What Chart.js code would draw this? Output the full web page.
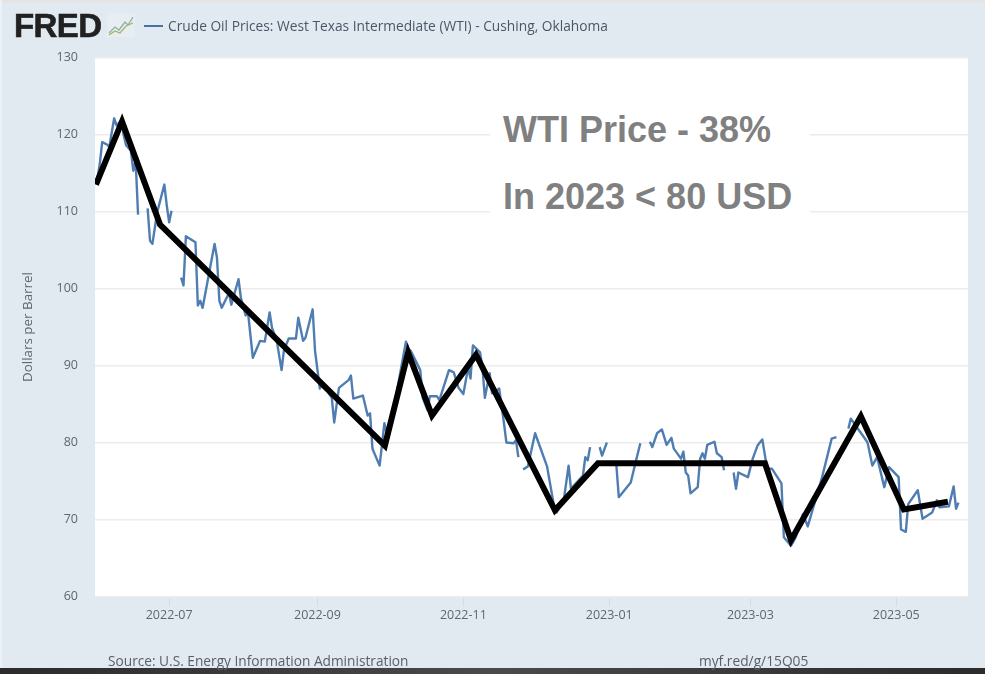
<!DOCTYPE html>
<html>
<head>
<meta charset="utf-8">
<script src="https://cdn.jsdelivr.net/npm/chart.js@4"></script>
<style>
html,body{margin:0;padding:0;background:#e1e9f1;}
#page{position:relative;width:985px;height:674px;overflow:hidden;background:#e1e9f1;font-family:"Open Sans",sans-serif;}
canvas{position:absolute;left:0;top:0;}
.abs{position:absolute;white-space:nowrap;}
#topstrip{left:0;top:0;width:985px;height:3px;background:#e4e4e4;}
#leftstrip{left:0;top:0;width:2px;height:668px;background:#edf1f5;}
#bottomstrip{left:0;top:668px;width:985px;height:6px;background:linear-gradient(90deg,#2b2b2b,#4a4a4a 50%,#2b2b2b);}
#logo{left:14px;top:8px;font:bold 33px/36px "Liberation Sans",Arial,sans-serif;color:#212121;letter-spacing:-0.6px;-webkit-text-stroke:0.6px #212121;}
#legendline{left:144px;top:25px;width:19px;height:2px;background:#4572a7;}
#legendtext{left:168px;top:16px;font-size:13.75px;line-height:19px;color:#4a5765;}
#note{left:490px;top:104px;width:320px;height:122px;background:#fff;}
.notetext{font:bold 36px/40px "Liberation Sans",Arial,sans-serif;color:#808080;left:503px;}
#source{left:108px;top:652px;font-size:13.7px;line-height:18px;color:#5a5f66;}
#link{left:699px;top:652px;font-size:13.75px;line-height:18px;color:#5a5f66;}
</style>
</head>
<body>
<div id="page">
<canvas id="c" width="985" height="674"></canvas>
<div class="abs" id="note"></div>
<div class="abs notetext" style="top:110px">WTI Price - 38%</div>
<div class="abs notetext" style="top:177px">In 2023 &lt; 80 USD</div>
<div class="abs" id="topstrip"></div>
<div class="abs" id="leftstrip"></div>
<div class="abs" id="bottomstrip"></div>
<div class="abs" id="logo">FRED</div>
<svg class="abs" style="left:107px;top:13px" width="28" height="24" viewBox="0 0 28 24">
<rect x="0" y="0" width="28" height="24" fill="#e8edf1"/>
<polyline points="2,20 8,14 12,17 18,9 21,12 26,4" fill="none" stroke="#8fb0a0" stroke-width="1.3"/>
<polyline points="2,22 8,18 13,20 19,13 26,10" fill="none" stroke="#9db86a" stroke-width="1.3"/>
</svg>
<div class="abs" id="legendline"></div>
<div class="abs" id="legendtext">Crude Oil Prices: West Texas Intermediate (WTI) - Cushing, Oklahoma</div>
<div class="abs" id="source">Source: U.S. Energy Information Administration</div>
<div class="abs" id="link">myf.red/g/15Q05</div>
</div>
<script>
// Days counted from 2022-05-31; null values are gaps in the daily series.
const wtiDays = [1,2,3,5,6,8,9,11,12,13,15,16,17,18,20,22,23,24,26,29,30,31,32,34,36,37,38,42,43,44,45,50,51,52,53,56,57,60,61,63,64,66,69,71,73,74,76,78,79,81,84,85,87,88,91,92,94,95,99,100,102,106,107,108,112,114,115,116,119,121,122,124,130,131,132,136,137,139,140,143,144,148,150,152,154,156,157,158,161,162,163,165,166,169,171,172,175,176,177,178,179,181,184,189,192,193,196,198,199,204,205,206,207,208,211,212,214,215,218,219,224,226,228,230,232,233,235,237,239,241,242,245,246,247,248,249,252,253,254,255,256,259,260,262,263,264,267,268,269,273,275,277,279,281,283,287,288,291,293,296,298,304,308,310,311,315,316,318,321,323,325,327,330,332,336,337,339,340,344,346,350,352,353,357,359,360,361];
const wtiValues = [114.3,116.2,119.0,118.7,118.4,122.1,121.2,121.8,119.9,118.6,117.9,115.3,116.6,109.6,null,110.4,106.2,105.8,109.9,113.5,110.8,108.6,110.1,null,101.4,100.4,106.8,106.0,97.8,98.4,97.5,105.8,104.0,98.4,97.5,99.4,97.9,101.2,98.8,96.5,96.8,91.0,93.2,93.1,96.9,94.9,93.2,89.4,92.0,93.5,93.5,96.2,93.2,93.6,97.3,91.9,87.0,87.7,85.8,82.6,87.1,88.1,88.7,85.7,86.1,83.5,83.8,79.2,77.0,82.5,81.2,82.9,93.1,92.2,91.9,89.4,85.8,84.2,86.0,86.0,85.5,89.4,89.1,87.1,86.3,89.7,88.3,92.6,91.7,89.7,85.8,89.0,86.4,87.0,82.5,80.0,79.9,80.3,78.1,null,76.5,76.9,81.2,76.9,71.6,70.9,72.5,77.0,74.0,75.7,78.1,77.7,79.4,null,79.4,78.3,80.0,null,77.0,72.9,74.8,77.4,79.9,null,80.1,79.4,81.2,81.7,79.7,80.6,79.2,77.9,78.8,76.1,75.7,73.4,74.2,77.9,78.6,77.9,79.7,80.1,78.6,78.1,76.4,null,76.1,74.0,76.1,75.5,77.9,79.6,80.4,76.6,76.6,74.7,67.7,66.6,67.7,70.7,69.1,75.5,80.5,80.7,null,81.8,83.1,82.2,80.9,80.0,77.0,78.1,74.2,76.8,75.5,68.7,68.4,72.0,73.8,70.1,70.9,72.5,71.6,71.7,74.3,71.4,72.2];
const trendDays = [0.4,11.3,27.2,121.2,130.9,140.9,159.3,192.3,210.3,280.1,291,320.2,338.2,356.6];
const trendValues = [113.5,121.7,108.3,79.6,91.7,83.5,91.4,71.2,77.3,77.3,67.3,83.4,71.3,72.3];
const tickDays = [31,93,154,215,274,335];
const tickLabels = ["2022-07","2022-09","2022-11","2023-01","2023-03","2023-05"];
const yTicks = [60,70,80,90,100,110,120,130];

const font = {family:'"Open Sans",sans-serif', size:12.5};
const toPoints = (xs, ys) => xs.map((x, i) => ({x, y: ys[i]}));

new Chart(document.getElementById('c'), {
  type: 'line',
  data: {
    datasets: [
      {label:'Trend', data: toPoints(trendDays, trendValues), borderColor:'#000', borderWidth:6,
       pointRadius:0, tension:0, order:0, borderJoinStyle:'miter', borderCapStyle:'butt'},
      {label:'Crude Oil Prices: West Texas Intermediate (WTI) - Cushing, Oklahoma',
       data: toPoints(wtiDays, wtiValues), borderColor:'#4f7db2', borderWidth:2.4,
       pointRadius:0, tension:0, spanGaps:false, order:1, borderJoinStyle:'round'}
    ]
  },
  options: {
    responsive:false, animation:false, maintainAspectRatio:false,
    layout:{padding:{top:57.5,right:17,left:0,bottom:0}},
    plugins:{legend:{display:false}, title:{display:false}, tooltip:{enabled:false},
      plotBg:{color:'#fff'}},
    scales:{
      x:{type:'linear', min:0, max:365,
        afterBuildTicks:s=>{s.ticks = tickDays.map(v=>({value:v}));},
        afterFit:s=>{s.height = 77.5;},
        ticks:{autoSkip:false, maxRotation:0, minRotation:0, padding:1, color:'#5f6670', font,
          callback:v=>tickLabels[tickDays.indexOf(v)]},
        grid:{drawOnChartArea:false, drawTicks:true, tickLength:10, tickColor:'#d3dce6', tickWidth:1},
        border:{display:false}},
      y:{min:60, max:130,
        afterBuildTicks:s=>{s.ticks = yTicks.map(v=>({value:v}));},
        afterFit:s=>{s.width = 95;},
        ticks:{padding:17, color:'#5f6670', font},
        grid:{color:'#ececec', lineWidth:1.5, drawTicks:false},
        border:{display:false},
        title:{display:true, text:'Dollars per Barrel', color:'#5f6670', font:{family:font.family,size:13.4}, padding:{top:20,bottom:0}}}
    }
  },
  plugins:[{id:'plotBg', beforeDraw(ch,a,o){const c=ch.ctx,r=ch.chartArea;c.save();c.fillStyle=o.color;c.fillRect(r.left,r.top,r.width,r.height);c.restore();}}]
});
</script>
</body>
</html>
